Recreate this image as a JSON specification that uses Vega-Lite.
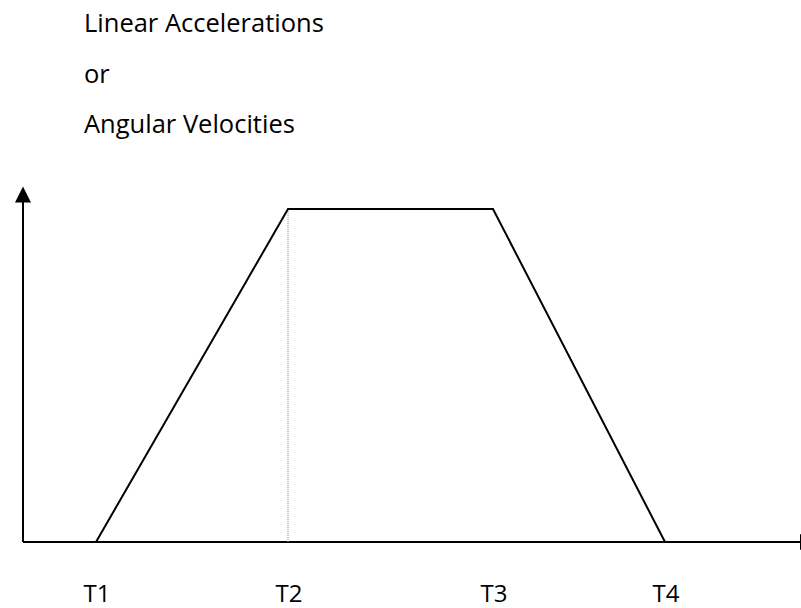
{
  "$schema": "https://vega.github.io/schema/vega-lite/v6.json",
  "autosize": "none",
  "padding": 0,
  "width": 801,
  "height": 608,
  "background": "white",
  "config": {"view": {"stroke": null}},
  "datasets": {
    "profile": [
      {"t": 73, "v": 0},
      {"t": 265, "v": 333},
      {"t": 470, "v": 333},
      {"t": 642, "v": 0}
    ],
    "axes": [
      {"t": 0, "v": 0, "t2": 777, "v2": 0},
      {"t": 0, "v": 0, "t2": 0, "v2": 340}
    ],
    "guide": [
      {"t": 265, "v": 0, "v2": 333}
    ],
    "arrows": [
      {"t": 0, "v": 347.5, "dir": "up"},
      {"t": 785, "v": 0, "dir": "right"}
    ],
    "ticks": [
      {"t": 74, "v": -60, "label": "T1"},
      {"t": 266, "v": -60, "label": "T2"},
      {"t": 471, "v": -60, "label": "T3"},
      {"t": 643, "v": -60, "label": "T4"}
    ],
    "titles": [
      {"t": 61, "v": 510, "label": "Linear Accelerations"},
      {"t": 61, "v": 459, "label": "or"},
      {"t": 61, "v": 409, "label": "Angular Velocities"}
    ]
  },
  "layer": [
    {
      "data": {"name": "axes"},
      "mark": {"type": "rule", "color": "black", "strokeWidth": 2},
      "encoding": {
        "x": {"field": "t", "type": "quantitative", "scale": {"domain": [-23, 778]}, "axis": null},
        "x2": {"field": "t2"},
        "y": {"field": "v", "type": "quantitative", "scale": {"domain": [-66, 542]}, "axis": null},
        "y2": {"field": "v2"}
      }
    },
    {
      "data": {"name": "guide"},
      "mark": {"type": "rule", "color": "#8a8a8a", "strokeWidth": 1, "strokeDash": [1, 1]},
      "encoding": {
        "x": {"field": "t", "type": "quantitative", "scale": {"domain": [-23, 778]}, "axis": null},
        "y": {"field": "v", "type": "quantitative", "scale": {"domain": [-66, 542]}, "axis": null},
        "y2": {"field": "v2"}
      }
    },
    {
      "data": {"name": "profile"},
      "mark": {"type": "line", "color": "black", "strokeWidth": 2},
      "encoding": {
        "x": {"field": "t", "type": "quantitative", "scale": {"domain": [-23, 778]}, "axis": null},
        "y": {"field": "v", "type": "quantitative", "scale": {"domain": [-66, 542]}, "axis": null}
      }
    },
    {
      "data": {"name": "arrows"},
      "transform": [{"filter": "datum.dir === 'up'"}],
      "mark": {"type": "point", "shape": "M0,-1L1,1L-1,1Z", "size": 256, "filled": true, "color": "black", "opacity": 1},
      "encoding": {
        "x": {"field": "t", "type": "quantitative", "scale": {"domain": [-23, 778]}, "axis": null},
        "y": {"field": "v", "type": "quantitative", "scale": {"domain": [-66, 542]}, "axis": null}
      }
    },
    {
      "data": {"name": "arrows"},
      "transform": [{"filter": "datum.dir === 'right'"}],
      "mark": {"type": "point", "shape": "M1,0L-1,-1L-1,1Z", "size": 256, "filled": true, "color": "black", "opacity": 1},
      "encoding": {
        "x": {"field": "t", "type": "quantitative", "scale": {"domain": [-23, 778]}, "axis": null},
        "y": {"field": "v", "type": "quantitative", "scale": {"domain": [-66, 542]}, "axis": null}
      }
    },
    {
      "data": {"name": "ticks"},
      "mark": {"type": "text", "align": "center", "baseline": "alphabetic", "font": "Open Sans", "fontSize": 24, "color": "black"},
      "encoding": {
        "x": {"field": "t", "type": "quantitative", "scale": {"domain": [-23, 778]}, "axis": null},
        "y": {"field": "v", "type": "quantitative", "scale": {"domain": [-66, 542]}, "axis": null},
        "text": {"field": "label"}
      }
    },
    {
      "data": {"name": "titles"},
      "mark": {"type": "text", "align": "left", "baseline": "alphabetic", "font": "Open Sans", "fontSize": 25.5, "color": "black"},
      "encoding": {
        "x": {"field": "t", "type": "quantitative", "scale": {"domain": [-23, 778]}, "axis": null},
        "y": {"field": "v", "type": "quantitative", "scale": {"domain": [-66, 542]}, "axis": null},
        "text": {"field": "label"}
      }
    }
  ]
}
